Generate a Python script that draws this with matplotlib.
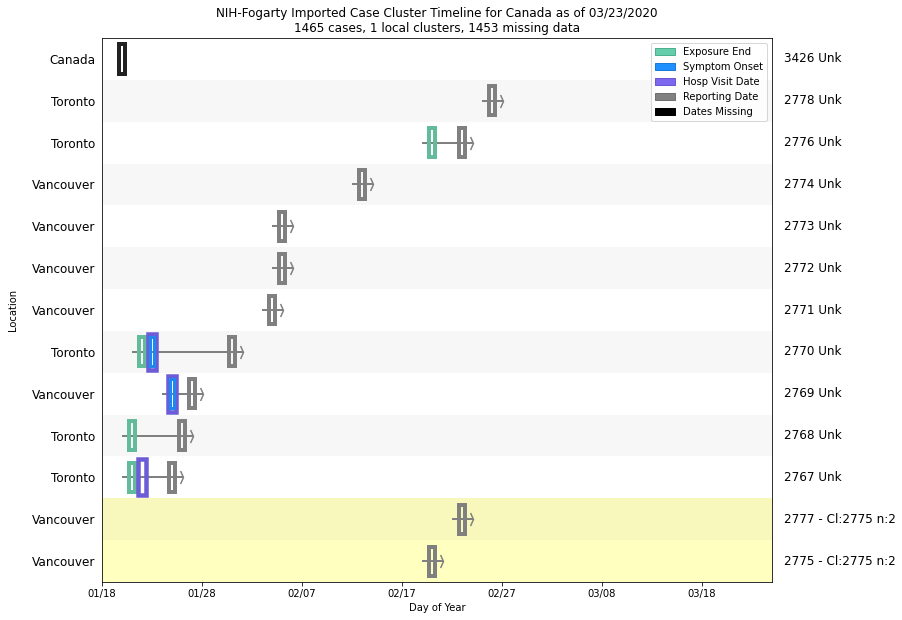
import numpy as np
import matplotlib
matplotlib.use("Agg")
import matplotlib.pyplot as plt
import matplotlib.patches as mpatches
from matplotlib.path import Path
from matplotlib.transforms import blended_transform_factory

nan = np.nan

# rows from top to bottom
locations = ["Canada", "Toronto", "Toronto", "Vancouver", "Vancouver", "Vancouver",
             "Vancouver", "Toronto", "Vancouver", "Toronto", "Toronto",
             "Vancouver", "Vancouver"]
case_labels = ["3426 Unk", "2778 Unk", "2776 Unk", "2774 Unk", "2773 Unk", "2772 Unk",
               "2771 Unk", "2770 Unk", "2769 Unk", "2768 Unk", "2767 Unk",
               "2777 - Cl:2775 n:2", "2775 - Cl:2775 n:2"]
# day of year (2020)
exposure_end = [nan, nan, 51, nan, nan, nan, nan, 22, nan, 21, 21, nan, nan]
symptom_onset = [nan, nan, nan, nan, nan, nan, nan, 23, 25, nan, nan, nan, nan]
hosp_visit = [nan, nan, nan, nan, nan, nan, nan, 23, 25, nan, 22, nan, nan]
reporting = [nan, 57, 54, 44, 36, 36, 35, 31, 27, 26, 25, 54, 51]
dates_missing = [20, nan, nan, nan, nan, nan, nan, nan, nan, nan, nan, nan, nan]
in_cluster = [False] * 11 + [True, True]

tick_days = [18, 28, 38, 48, 58, 68, 78]
tick_labels = ["01/18", "01/28", "02/07", "02/17", "02/27", "03/08", "03/18"]

C_EXP = "#62bb9b"
C_SYM = "#1e88f0"
C_HOSP = "#6c5cd8"
C_REP = "#808080"
C_MISS = "#222222"

fig = plt.figure(figsize=(902 / 72, 620 / 72), dpi=72)
ax = fig.add_axes([102 / 902, 1 - 582 / 620, 670 / 902, 544 / 620])

n = len(locations)
ys = np.arange(n)[::-1]

# background bands
for i, y in enumerate(ys):
    if in_cluster[i]:
        col = "#f8f8bc" if y % 2 else "#ffffc0"
    else:
        col = "#f7f7f7" if y % 2 else "white"
    ax.axhspan(y - 0.5, y + 0.5, color=col, zorder=0, lw=0)

chevron = Path([(-0.45, 1.0), (0, 0), (-0.45, -1.0)],
               [Path.MOVETO, Path.LINETO, Path.LINETO])

# timeline lines
for i, y in enumerate(ys):
    vals = [v for v in (exposure_end[i], symptom_onset[i], hosp_visit[i], reporting[i])
            if not np.isnan(v)]
    if not vals:
        continue
    x0, x1 = min(vals) - 1.05, max(vals) + 1.05
    ax.plot([x0, x1], [y, y], color=C_REP, lw=2, zorder=2, solid_capstyle="butt")
    ax.plot([x1], [y], marker=chevron, ms=13, mfc="none", mec=C_REP, mew=1.5, zorder=2)


def boxes(values, color, w, h, lw):
    v = np.array(values, dtype=float)
    m = ~np.isnan(v)
    ax.bar(v[m], height=h, width=w, bottom=ys[m] - h / 2, fill=False,
           edgecolor=color, linewidth=lw, zorder=3)


boxes(exposure_end, C_EXP, 0.68, 0.69, 4)
boxes(hosp_visit, C_HOSP, 0.85, 0.86, 4.5)
boxes(symptom_onset, C_SYM, 0.45, 0.70, 3)
boxes(reporting, C_REP, 0.68, 0.69, 4)
boxes(dates_missing, C_MISS, 0.66, 0.71, 4)

ax.set_xlim(18, 85)
ax.set_ylim(-0.5, n - 0.5)
ax.set_xticks(tick_days)
ax.set_xticklabels(tick_labels, fontsize=10)
ax.set_yticks(ys)
ax.set_yticklabels(locations, fontsize=12)
ax.tick_params(axis="y", length=0, pad=7)
ax.set_xlabel("Day of Year", fontsize=10)
ax.set_ylabel("Location", fontsize=10, labelpad=14)

trans = blended_transform_factory(ax.transAxes, ax.transData)
for y, lab in zip(ys, case_labels):
    ax.text(1.018, y, lab, transform=trans, fontsize=12, va="center", ha="left")

ax.set_title("NIH-Fogarty Imported Case Cluster Timeline for Canada as of 03/23/2020\n"
             "1465 cases, 1 local clusters, 1453 missing data", fontsize=12)

handles = [mpatches.Patch(facecolor="mediumaquamarine", edgecolor="#4fae8e", label="Exposure End"),
           mpatches.Patch(facecolor="dodgerblue", edgecolor="#1a7ad8", label="Symptom Onset"),
           mpatches.Patch(facecolor="mediumslateblue", edgecolor="#6a58d0", label="Hosp Visit Date"),
           mpatches.Patch(facecolor="gray", edgecolor="#707070", label="Reporting Date"),
           mpatches.Patch(facecolor="black", edgecolor="black", label="Dates Missing")]
ax.legend(handles=handles, loc="upper right", fontsize=10)

fig.savefig("out.png", dpi=72)
